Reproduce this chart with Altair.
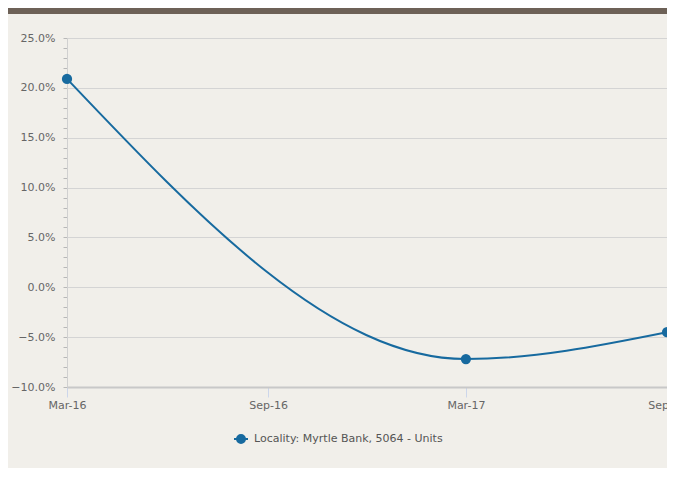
import altair as alt
import pandas as pd

# ---- data ----
dates = ["2016-03-01", "2017-03-01", "2017-09-01"]
growth = [0.209, -0.072, -0.045]
series_name = "Locality: Myrtle Bank, 5064 - Units"
x_tick_dates = [(2016, 3, 1), (2016, 9, 1), (2017, 3, 1), (2017, 9, 1)]
y_tick_pct = list(range(-10, 26))          # minor ticks every 1 %, labels every 5 %
y_domain = [-0.10, 0.25]

LINE = "#176a9f"
BG = "#f1efea"
HEADER = "#6d6157"
FONT = "DejaVu Sans"

df = pd.DataFrame({"date": dates, "growth": growth,
                   "series": [series_name] * len(dates)})


def dt(y, m, d):
    return alt.DateTime(year=y, month=m, date=d, utc=True)


major = "round(datum.value * 100) % 5 === 0"

x = alt.X(
    "date:T",
    scale=alt.Scale(type="utc", domain=[dt(*x_tick_dates[0]), dt(*x_tick_dates[-1])], nice=False),
    axis=alt.Axis(
        values=[dt(*t) for t in x_tick_dates], format="%b-%y", title=None, grid=False,
        domainColor="#c8c8c8", domainWidth=2, tickColor="#ccd6eb", tickSize=10,
        labelPadding=2, labelFontSize=11, labelColor="#666666", labelFont=FONT,
        labelFlush=False, labelOverlap=False,
    ),
)

y = alt.Y(
    "growth:Q",
    scale=alt.Scale(domain=y_domain, nice=False, zero=False),
    axis=alt.Axis(
        values=[v / 100 for v in y_tick_pct],
        labelExpr=f"{major} ? format(datum.value, '.1%') : ''",
        title=None, grid=True, gridColor="#d4d4d4",
        gridOpacity={"condition": {"test": major, "value": 1}, "value": 0},
        domainColor="#d0d0d0", tickColor="#b8b8b8", tickSize=4,
        labelPadding=8, labelFontSize=11, labelColor="#666666", labelFont=FONT,
        labelOverlap=False,
    ),
)

header = alt.Chart(pd.DataFrame({"h": [0]})).mark_rect(color=HEADER).encode(
    x=alt.value(-59), x2=alt.value(600), y=alt.value(-30), y2=alt.value(-24)
)

line = alt.Chart(df).mark_line(interpolate="monotone", strokeWidth=2).encode(
    x=x, y=y, color=alt.value(LINE)
)

legend_symbol = "M-1,0L1,0M0.57,0A0.57,0.57,0,1,1,-0.57,0A0.57,0.57,0,1,1,0.57,0Z"

points = alt.Chart(df).mark_point(filled=True, size=105, opacity=1).encode(
    x=x, y=y,
    color=alt.Color(
        "series:N", scale=alt.Scale(range=[LINE]),
        legend=alt.Legend(
            title=None, orient="none", legendX=166, legendY=393, padding=0,
            symbolType=legend_symbol, symbolSize=196, symbolStrokeWidth=2,
            symbolStrokeColor=LINE, symbolFillColor=LINE, symbolOpacity=1,
            labelOffset=5, labelFontSize=11, labelColor="#555555", labelFont=FONT,
            labelLimit=0,
        ),
    ),
)

chart = alt.layer(header, line, points).properties(
    width=600, height=349,
    autosize=alt.AutoSizeParams(type="none"),
    padding={"left": 59, "top": 30, "right": 0, "bottom": 81},
    background=BG,
).configure_view(stroke=None)

chart.save("out.html", embed_options={"renderer": "svg", "actions": False})
